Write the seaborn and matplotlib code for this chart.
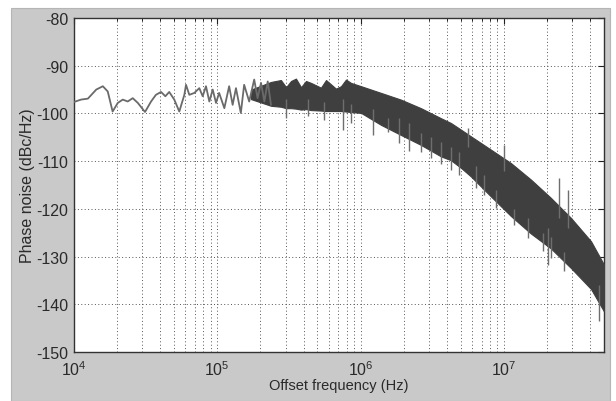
import numpy as np
import matplotlib
matplotlib.use("Agg")
import matplotlib.pyplot as plt
import seaborn as sns
from matplotlib.patches import Rectangle
from matplotlib.ticker import LogLocator, FixedLocator

# Low offset part of the trace, read point by point (Hz, dBc/Hz)
trace_freq = [1.0e4, 1.12e4, 1.25e4, 1.43e4, 1.59e4, 1.72e4, 1.86e4, 2.02e4, 2.19e4,
              2.37e4, 2.57e4, 2.79e4, 3.13e4, 3.45e4, 3.73e4, 4.05e4, 4.34e4, 4.62e4,
              5.01e4, 5.43e4, 5.89e4, 6.05e4, 6.38e4, 6.92e4, 7.49e4, 7.91e4, 8.34e4,
              8.80e4, 9.29e4, 9.80e4, 1.03e5, 1.12e5, 1.21e5, 1.28e5, 1.35e5, 1.46e5,
              1.54e5, 1.67e5, 1.81e5, 1.91e5, 2.02e5, 2.13e5, 2.25e5, 2.37e5]
trace_dbc = [-97.6, -97.1, -96.9, -95.0, -94.3, -95.4, -99.6, -97.8, -97.1,
             -97.5, -96.8, -97.8, -99.7, -97.5, -96.1, -95.5, -96.4, -95.5,
             -97.1, -99.6, -96.1, -94.0, -96.1, -95.7, -94.7, -96.4, -94.3,
             -97.5, -95.0, -97.8, -95.7, -98.9, -94.3, -98.2, -94.7, -99.9,
             -94.0, -97.5, -92.9, -96.8, -93.6, -97.5, -93.3, -98.2]

# Dense noise band: upper / lower envelope
band_freq = [1.72e5, 2.37e5, 2.78e5, 3.02e5, 3.27e5, 3.54e5, 3.84e5, 4.16e5, 4.51e5,
             5.29e5, 5.74e5, 6.73e5, 7.30e5, 7.91e5, 8.57e5, 1.01e6, 1.39e6, 1.91e6,
             2.64e6, 3.64e6, 4.27e6, 5.02e6, 5.89e6, 8.13e6, 1.12e7, 1.55e7, 2.13e7,
             2.94e7, 4.06e7, 5.0e7]
band_upper = [-95.0, -93.4, -93.0, -94.5, -93.2, -92.7, -94.5, -93.2, -93.6,
              -94.6, -93.0, -94.8, -94.3, -92.9, -93.6, -94.3, -95.7, -97.1,
              -98.9, -101.0, -102.0, -103.4, -104.8, -107.6, -110.4, -113.9, -117.7,
              -121.9, -126.8, -131.7]
band_lower = [-97.0, -98.4, -98.6, -98.9, -98.9, -99.0, -99.2, -99.1, -99.3,
              -99.4, -99.5, -99.5, -99.5, -99.6, -99.7, -99.9, -102.4, -104.5,
              -106.6, -109.0, -109.8, -111.4, -113.2, -117.4, -121.5, -125.2, -128.3,
              -132.4, -136.8, -141.5]

# Spurs sticking out of the band (frequency, start inside band, tip)
spike_freq = [3.02e5, 4.27e5, 5.58e5, 7.5e5, 8.57e5, 1.23e6, 1.55e6, 1.86e6, 2.19e6,
              2.64e6, 3.10e6, 3.64e6, 4.27e6, 4.89e6, 6.38e6, 7.26e6, 8.81e6, 1.18e7,
              1.47e7, 1.87e7, 2.02e7, 2.13e7, 2.63e7, 4.61e7,
              5.59e6, 9.97e6, 2.44e7, 2.81e7]
spike_base = [-97.0, -97.0, -97.5, -97.0, -98.0, -99.0, -101.0, -101.0, -102.0,
              -104.0, -105.0, -106.0, -107.0, -108.0, -111.0, -113.0, -116.0, -120.0,
              -122.0, -125.0, -124.0, -126.0, -129.0, -136.0,
              -107.0, -112.0, -122.0, -124.0]
spike_tip = [-101.0, -100.6, -101.3, -103.4, -102.0, -104.5, -103.8, -106.2, -107.9,
             -108.0, -109.3, -110.7, -111.8, -112.8, -115.6, -117.0, -119.8, -123.3,
             -126.2, -128.9, -131.7, -130.3, -133.0, -143.5,
             -103.1, -106.6, -113.5, -116.0]

sns.set_theme(style="white")
plt.rcParams["font.family"] = ["Liberation Sans", "DejaVu Sans"]
plt.rcParams["mathtext.fontset"] = "custom"
plt.rcParams["mathtext.rm"] = "Liberation Sans"
plt.rcParams["axes.unicode_minus"] = False

fig = plt.figure(figsize=(6.16, 4.02), dpi=100, facecolor="white")
# grey MATLAB figure background, kept behind the axes
fig.add_artist(Rectangle((11 / 616, 0), 599 / 616, 393 / 402, transform=fig.transFigure,
                         facecolor="#c9c9c9", edgecolor="#b5b5b5", lw=0.8, zorder=-10))
ax = fig.add_axes([74 / 616, 49 / 402, 530 / 616, 334 / 402])
ax.set_zorder(1)
ax.set_facecolor("white")

ax.fill_between(band_freq, band_lower, band_upper, color="#3f3f3f", lw=0.8,
                edgecolor="#3f3f3f", zorder=3)
ax.vlines(spike_freq, spike_base, spike_tip, color="#6e6e6e", lw=1.0, zorder=3)
sns.lineplot(x=trace_freq, y=trace_dbc, ax=ax, color="#6a6a6a", lw=1.3,
             estimator=None, sort=False, zorder=4)

ax.set_xscale("log")
ax.set_xlim(1e4, 5e7)
ax.set_ylim(-150, -80)
ax.set_yticks(np.arange(-150, -79, 10))
ax.xaxis.set_major_locator(FixedLocator([1e4, 1e5, 1e6, 1e7]))
ax.xaxis.set_minor_locator(LogLocator(base=10, subs=np.arange(2, 10), numticks=20))

grid_style = dict(linestyle=(0, (1, 2.5)), color="#555555", lw=0.7)
ax.grid(True, which="major", axis="both", **grid_style)
ax.grid(True, which="minor", axis="x", **grid_style)

ax.tick_params(which="both", direction="in", top=True, right=True, colors="#222222",
               labelcolor="#2a2a2a", labelsize=11.5)
ax.tick_params(which="major", length=4, width=0.8)
ax.tick_params(which="minor", length=2.5, width=0.7)
ax.tick_params(axis="x", pad=5)
ax.tick_params(axis="y", pad=4)
for sp in ax.spines.values():
    sp.set_color("#333333")
    sp.set_linewidth(1.0)

ax.set_xlabel("Offset frequency (Hz)", fontsize=10.5, color="#2a2a2a", labelpad=0)
ax.set_ylabel("Phase noise (dBc/Hz)", fontsize=11.5, color="#2a2a2a", labelpad=1)

fig.savefig("out.png", dpi=100, facecolor=fig.get_facecolor())
